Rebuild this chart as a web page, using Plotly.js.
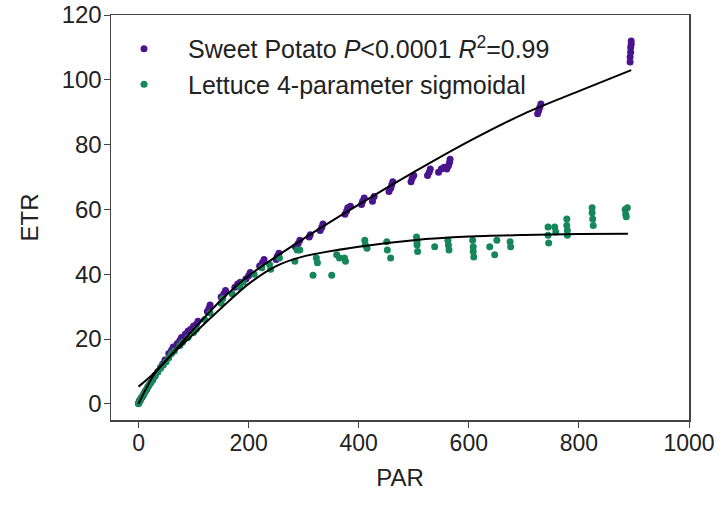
<!DOCTYPE html>
<html>
<head>
<meta charset="utf-8">
<script src="https://cdn.plot.ly/plotly-3.0.1.min.js"></script>
<style>html,body{margin:0;padding:0;background:#fff;}#chart{width:727px;height:509px;}</style>
</head>
<body>
<div id="chart"></div>
<script>
// Sweet potato measurements
const spPAR = [0,1,2,4,6,8,10,12,15,18,22,26,30,35,40,44,48,55,60,63,70,75,78,85,90,95,100,105,108,125,128,130,150,155,158,175,180,185,195,200,203,220,225,228,250,252,255,285,290,293,310,312,330,333,335,375,378,380,385,405,407,410,425,428,455,458,460,462,495,497,500,525,528,530,545,550,555,560,563,565,566,725,727,729,731,893,893,894,894,895,895];
const spETR = [0.2,0.5,1,1.5,2,2.5,3.2,3.8,4.5,5.5,6.5,7.5,8.8,10,11.2,12.3,13.5,15.5,16.5,17.5,18.5,19.5,20.5,21.5,22.5,23,24,24.5,25.5,28.5,29.5,30.5,33,34,35,36,37,37.5,38.5,39.5,40.5,42.5,43.5,44.5,44.5,45.5,46.5,48.5,49.5,50.5,51.5,52.2,53.5,54.5,55.5,58.5,59.5,60.5,61,61.5,62.5,63.5,62.5,64,65.5,66.5,67.5,68.5,68.5,69.5,70.5,70.5,71.5,72.5,71.5,72.5,73,72.5,73.5,74.5,75.5,89.5,90.5,91.5,92.5,105.5,107,108.5,110,111,112];
// Lettuce measurements
const ltPAR = [0,1,3,5,8,10,13,16,20,25,30,35,40,45,50,55,60,65,75,80,90,100,105,120,130,150,153,170,184,190,210,224,238,240,256,284,288,293,317,323,325,351,360,365,374,376,411,412,415,451,452,458,505,506,506,507,538,562,563,564,607,608,608,609,638,647,651,675,676,744,744,745,756,758,778,778,779,779,824,824,825,826,884,888,885,886];
const ltETR = [0,0.5,1,1.8,2.5,3.2,4,5,6,7.2,8.5,9.8,11,12,13,14.2,15.5,16.3,18,19,20.5,22,23,26,28,31,32.5,34,36,37.5,40,42,43,41.5,45,44,47.5,47.5,39.7,45,43.5,39.7,46,45,45,44,50.5,49,48,50,47.5,45,51.5,50,49,47,48.5,50.5,49,47.5,50.5,48.5,47,45.3,48.5,46,50.5,50,48.5,54.6,52,49.6,54.6,53,57,55,53.5,52,60.5,59,57,55,60,60.5,58.5,57.7];
// Fitted curves
const spFitPAR = [0,33,100,147,200,300,400,500,600,700,800,895];
const spFitETR = [5.3,10.2,23,31.5,39.5,51,61.5,71.5,81,89.5,96.5,103];
const ltFitPAR = [0,33,100,150,200,250,300,400,500,600,700,800,889];
const ltFitETR = [0,10.2,21.5,29.5,37,42.5,45.5,48.5,50.5,51.6,52.1,52.4,52.5];

const spName = 'Sweet Potato <i>P</i>&lt;0.0001 <i>R</i><sup>2</sup>=0.99';
const ltName = 'Lettuce 4-parameter sigmoidal';

const purple = '#4a148c';
const green = '#16875a';

const traces = [
  {x: spPAR, y: spETR, type: 'scatter', mode: 'markers', name: spName,
   marker: {color: purple, size: 7}, cliponaxis: false},
  {x: ltPAR, y: ltETR, type: 'scatter', mode: 'markers', name: ltName,
   marker: {color: green, size: 7}, cliponaxis: false},
  {x: spFitPAR, y: spFitETR, type: 'scatter', mode: 'lines', showlegend: false,
   line: {color: '#000', width: 2, shape: 'spline', smoothing: 0.8}},
  {x: ltFitPAR, y: ltFitETR, type: 'scatter', mode: 'lines', showlegend: false,
   line: {color: '#000', width: 2, shape: 'spline', smoothing: 0.8}}
];

const font = 'Liberation Sans, Arial, sans-serif';
const layout = {
  width: 727, height: 509,
  margin: {l: 111, r: 38, t: 15, b: 89},
  paper_bgcolor: '#fff', plot_bgcolor: '#fff',
  font: {family: font, size: 22, color: '#222'},
  showlegend: true,
  legend: {x: -0.019, y: 0.973, xanchor: 'left', yanchor: 'top', bgcolor: 'rgba(0,0,0,0)',
           font: {family: font, size: 25, color: '#222'}, itemwidth: 78},
  xaxis: {range: [-50, 1000], tickvals: [0,200,400,600,800,1000], showgrid: false, zeroline: false,
          showline: true, linecolor: '#444', linewidth: 1.5, mirror: true,
          ticks: 'outside', ticklen: 6, tickcolor: '#444', ticklabelstandoff: -4,
          tickfont: {family: font, size: 23, color: '#222'},
          title: {text: 'PAR', font: {family: font, size: 24, color: '#222'}, standoff: 14}},
  yaxis: {range: [-5, 120], tickvals: [0,20,40,60,80,100,120], showgrid: false, zeroline: false,
          showline: true, linecolor: '#444', linewidth: 1.5, mirror: true,
          ticks: 'outside', ticklen: 6, tickcolor: '#444', ticklabelstandoff: -3,
          tickfont: {family: font, size: 24, color: '#222'},
          title: {text: 'ETR', font: {family: font, size: 24, color: '#222'}, standoff: 16}}
};

Plotly.newPlot('chart', traces, layout, {displayModeBar: false, staticPlot: true});
</script>
</body>
</html>
